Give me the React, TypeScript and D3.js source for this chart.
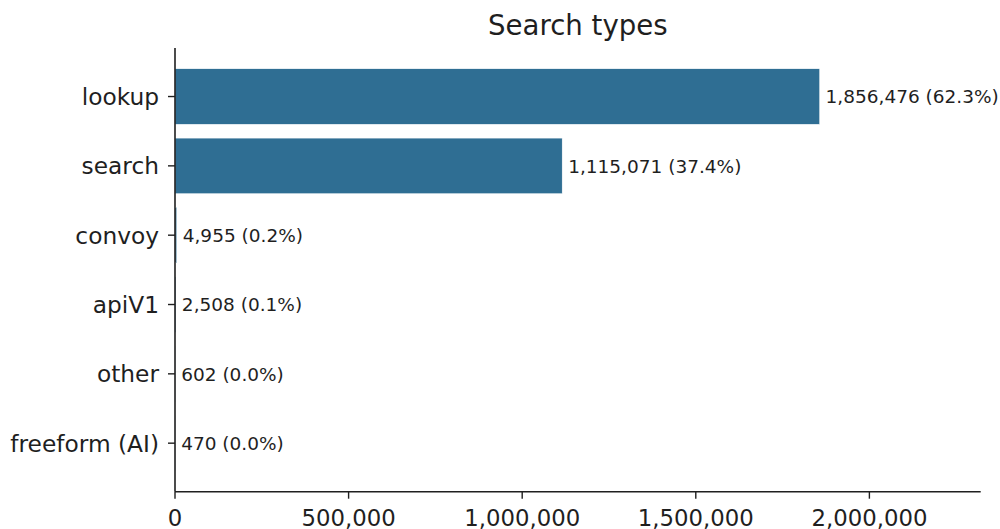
import React from "react";
import * as d3 from "d3";

const categories = ["lookup", "search", "convoy", "apiV1", "other", "freeform (AI)"];
const counts = [1856476, 1115071, 4955, 2508, 602, 470];
const xTicks = [0, 500000, 1000000, 1500000, 2000000];
const title = "Search types";

const W = 1000;
const H = 529;
const left = 175;
const right = 980.7;
const top = 48;
const bottom = 491.7;
const FONT = "'DejaVu Sans', sans-serif";
const INK = "#1f1f1f";
const BAR = "#2f6e93";

export default function App() {
  const total = d3.sum(counts);
  const x = d3.scaleLinear().domain([0, d3.max(counts)! * 1.25]).range([left, right]);
  const y = d3.scaleLinear().domain([-0.7, categories.length - 0.3]).range([top, bottom]);
  const bw = (y(0.4) - y(-0.4));
  const fmt = d3.format(",");
  return (
    <svg width={W} height={H} style={{ position: "absolute", left: 0, top: 0, background: "#fff" }} fontFamily={FONT}>
      <text x={(left + right) / 2} y={35} textAnchor="middle" fontSize={27.6} fill={INK}>{title}</text>
      {categories.map((c, i) => (
        <g key={c}>
          <rect x={x(0)} y={y(i) - bw / 2} width={Math.max(0, x(counts[i]) - x(0))} height={bw} fill={BAR} stroke="#ffffff" strokeWidth={0.4} />
          <text x={x(counts[i]) + 6} y={y(i)} dy="0.36em" fontSize={18.5} fill={INK}>
            {`${fmt(counts[i])} (${((counts[i] / total) * 100).toFixed(1)}%)`}
          </text>
          <line x1={left - 7} x2={left} y1={y(i)} y2={y(i)} stroke={INK} strokeWidth={1.4} />
          <text x={left - 16} y={y(i)} dy="0.36em" textAnchor="end" fontSize={23.3} fill={INK}>{c}</text>
        </g>
      ))}
      {xTicks.map((t) => (
        <g key={t}>
          <line x1={x(t)} x2={x(t)} y1={bottom} y2={bottom + 7} stroke={INK} strokeWidth={1.4} />
          <text x={x(t)} y={526} textAnchor="middle" fontSize={22.8} fill={INK}>{fmt(t)}</text>
        </g>
      ))}
      <line x1={left} x2={left} y1={top} y2={bottom} stroke={INK} strokeWidth={1.6} />
      <line x1={left} x2={right} y1={bottom} y2={bottom} stroke={INK} strokeWidth={1.6} />
    </svg>
  );
}
